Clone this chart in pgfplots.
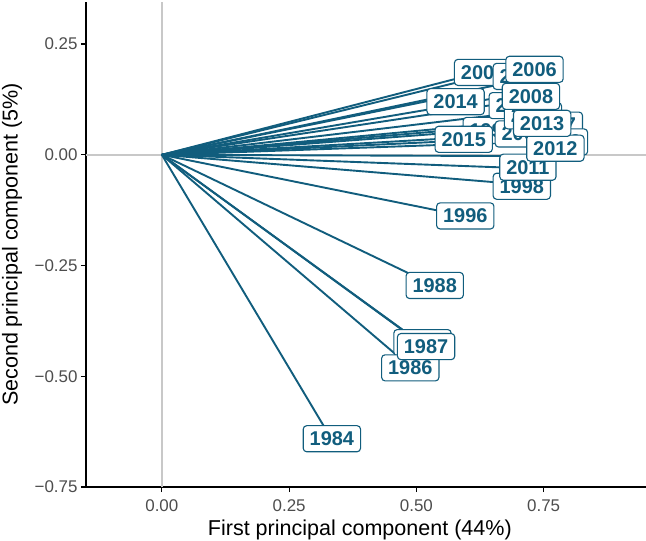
\documentclass[border=0pt]{standalone}
\usepackage{pgfplots}
\pgfplotsset{compat=1.18}
\usepackage{pgfplotstable}
\usepackage{fontspec}
\setmainfont{Liberation Sans}

\definecolor{pcblue}{RGB}{17,93,125}
\definecolor{zerogray}{RGB}{200,200,200}
\definecolor{tickgray}{RGB}{77,77,77}

% loadings: segment end (x,y) and label centre (lx,ly)
\pgfplotstableread{
year x y lx ly
1984 0.322 -0.620 0.334 -0.641
1985 0.479 -0.401 0.512 -0.424
1986 0.468 -0.459 0.488 -0.481
1987 0.491 -0.410 0.519 -0.433
1988 0.493 -0.272 0.536 -0.295
1996 0.556 -0.129 0.596 -0.138
1998 0.666 -0.063 0.707 -0.071
1999 0.605 0.053 0.648 0.055
2000 0.589 0.175 0.631 0.186
2001 0.658 0.114 0.699 0.111
2002 0.668 0.044 0.711 0.047
2003 0.688 0.094 0.729 0.088
2005 0.664 0.159 0.707 0.177
2006 0.692 0.195 0.732 0.193
2007 0.727 0.071 0.770 0.067
2008 0.686 0.134 0.725 0.132
2009 0.737 0.030 0.780 0.029
2011 0.680 -0.029 0.719 -0.028
2012 0.733 -0.003 0.773 0.015
2013 0.705 0.076 0.747 0.071
2014 0.538 0.125 0.577 0.120
2015 0.554 0.030 0.593 0.035
}\loadings

\begin{document}
\begin{tikzpicture}
\useasboundingbox (-86bp,-54bp) rectangle (560bp,487bp);
\begin{axis}[
  width=560bp, height=485bp, scale only axis,
  xmin=-0.149, xmax=0.951, ymin=-0.75, ymax=0.345,
  axis x line=bottom, axis y line=left,
  axis line style={-, line width=1.8bp, black},
  xtick={0,0.25,0.5,0.75}, xticklabels={0.00,0.25,0.50,0.75},
  ytick={-0.75,-0.5,-0.25,0,0.25},
  yticklabels={−0.75,−0.50,−0.25,0.00,0.25},
  tick align=outside, major tick length=5bp,
  tick style={black, line width=1.2bp},
  ticklabel style={font=\fontsize{17}{20}\selectfont, text=tickgray},
  xticklabel style={anchor=base, yshift=-19bp},
  yticklabel style={anchor=east},
  xlabel={First principal component (44\%)},
  ylabel={Second principal component (5\%)},
  label style={font=\fontsize{21.6}{25}\selectfont},
  xlabel style={at={(axis description cs:0.489,-0.099)}, anchor=base},
  ylabel style={at={(axis description cs:-0.1321,0.5)}, anchor=center, rotate=0},
  clip=false,
]
\addplot[zerogray, line width=1.5bp, forget plot] coordinates {(-0.149,0) (0.951,0)};
\addplot[zerogray, line width=1.5bp, forget plot] coordinates {(0,-0.75) (0,0.345)};

\addplot[pcblue, line width=1.9bp,
  quiver={u=\thisrow{x}, v=\thisrow{y}}]
  table[x expr=0, y expr=0] {\loadings};

\addplot[draw=none, nodes near coords, point meta=explicit symbolic,
  every node near coord/.style={anchor=center, draw=pcblue, fill=white,
    text=pcblue, line width=1.1bp, rounded corners=3.5bp,
    inner xsep=6.5bp, inner ysep=6bp,
    font=\fontsize{20}{24}\selectfont\bfseries}]
  table[x=lx, y=ly, meta=year] {\loadings};
\end{axis}
\end{tikzpicture}
\end{document}
